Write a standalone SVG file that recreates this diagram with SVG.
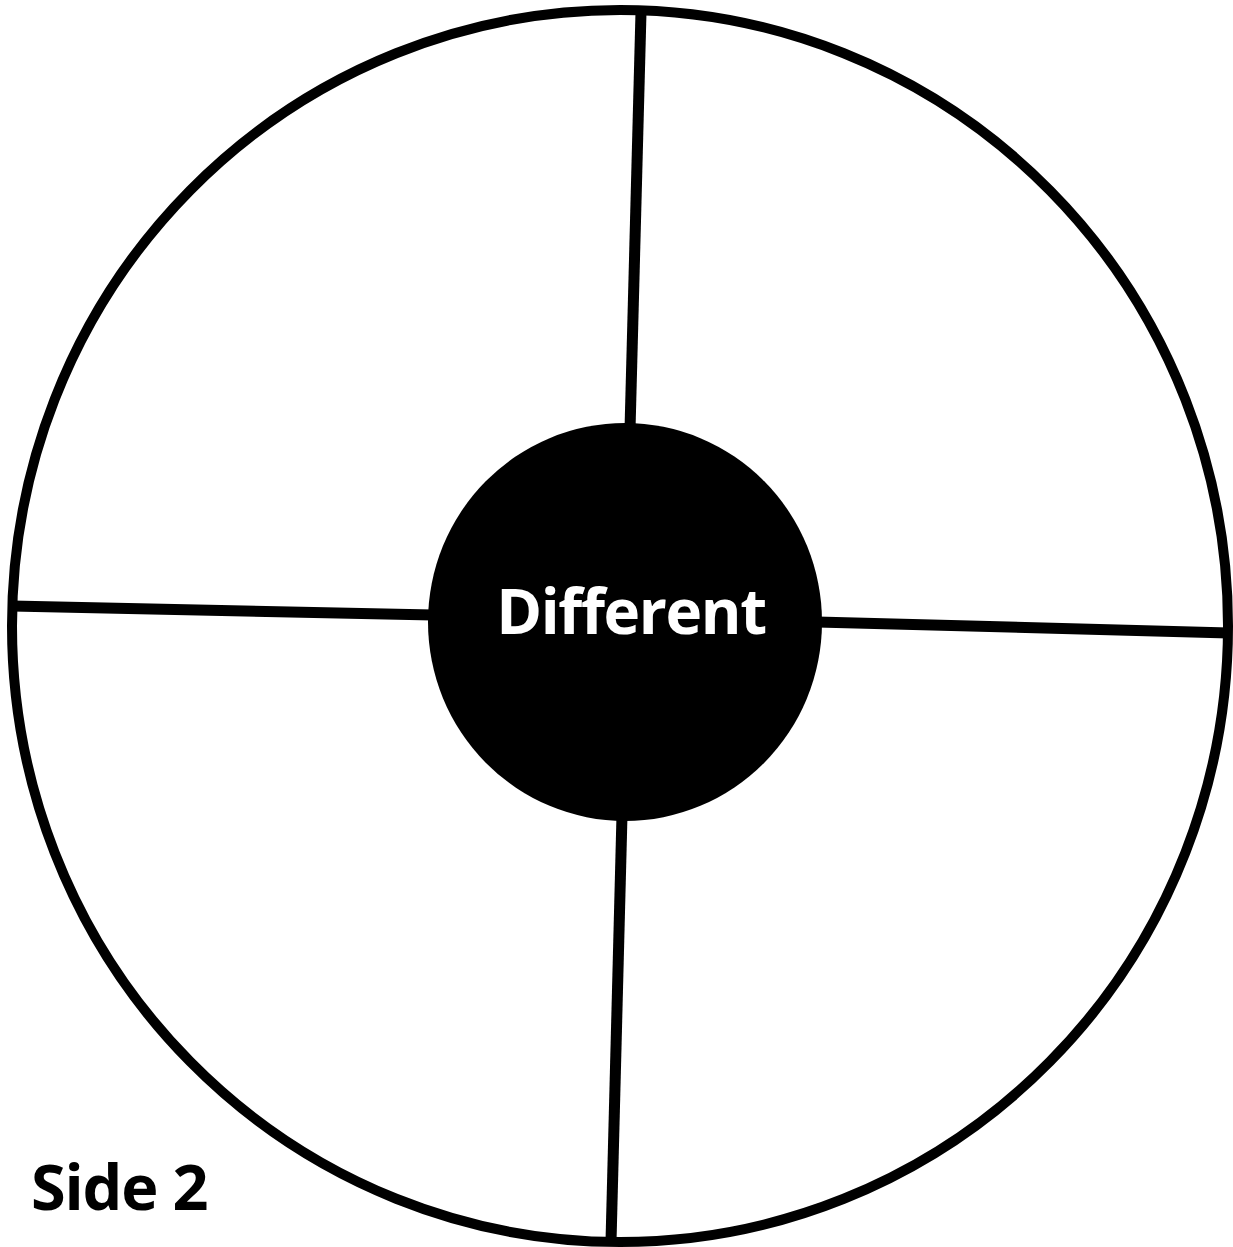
<svg xmlns="http://www.w3.org/2000/svg" width="1233" height="1247" viewBox="0 0 1233 1247">
<style>
.ln{stroke:#000;stroke-width:11;fill:none;stroke-linecap:butt}
.lbl{font-family:"Open Sans","Noto Sans","DejaVu Sans",sans-serif;font-weight:bold}
</style>
<rect width="1233" height="1247" fill="#fff"/>
<g id="outer">
<ellipse cx="620" cy="626" rx="608" ry="616" fill="none" stroke="#000" stroke-width="10"/>
</g>
<g id="connectors">
<line class="ln" x1="641" y1="12" x2="630" y2="430"/>
<line class="ln" x1="622" y1="815" x2="611" y2="1242"/>
<line class="ln" x1="12" y1="606" x2="433" y2="615"/>
<line class="ln" x1="817" y1="622" x2="1229" y2="633"/>
</g>
<g id="center">
<ellipse cx="625" cy="622" rx="197" ry="199" fill="#000"/>
<text class="lbl" x="631" y="634" font-size="62" letter-spacing="-1.4" fill="#fff" text-anchor="middle">Different</text>
</g>
<g id="side-label">
<text class="lbl" x="31" y="1210" font-size="63" letter-spacing="-1.2" fill="#000">Side 2</text>
</g>
</svg>
